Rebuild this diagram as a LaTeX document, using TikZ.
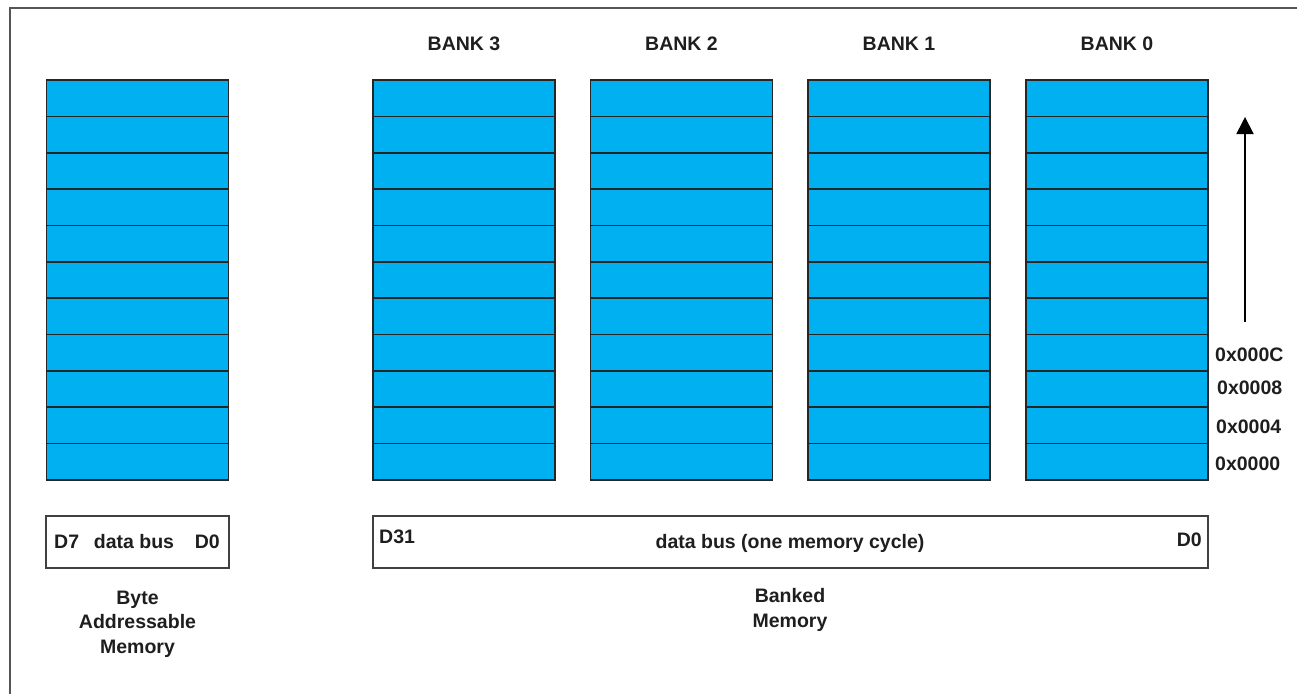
\documentclass[tikz,border=0pt]{standalone}
\usepackage{fontspec}
\setmainfont{Liberation Sans}
\usetikzlibrary{arrows.meta,calc}
\definecolor{cellblue}{HTML}{00B0F0}
\definecolor{txt}{HTML}{1E1E1E}
\definecolor{frame}{HTML}{555555}
\begin{document}
\begin{tikzpicture}[x=1pt,y=-1pt,
  memcol/.style={draw=black!85, line width=1.6pt, fill=cellblue, minimum width=182pt, minimum height=400pt, inner sep=0pt, outer sep=0pt},
  sepline/.style={draw=black!85, line width=1.6pt},
  lbl/.style={font=\bfseries\fontsize{19.5}{24.5}\selectfont, text=txt, inner sep=0pt},
  busbox/.style={draw=black!75, line width=1.4pt, minimum height=52pt, inner sep=0pt, outer sep=0pt},
  addrarrow/.style={-{Triangle[length=17pt,width=17pt]}, line width=1.8pt, draw=black}]
\useasboundingbox (0,0) rectangle (1297,694);
\draw[frame, line width=1.6pt] (10,694) -- (10,8) -- (1297,8);
% memory columns
\node[memcol] (byte)  at (137.5,280) {};
\node[memcol] (bank3) at (464,280) {};
\node[memcol] (bank2) at (681.5,280) {};
\node[memcol] (bank1) at (899,280) {};
\node[memcol] (bank0) at (1117,280) {};
\foreach \c in {byte,bank3,bank2,bank1,bank0}{
  \foreach \i in {1,...,10}{
    \draw[sepline] ($(\c.north west)!\i/11!(\c.south west)$) -- ($(\c.north east)!\i/11!(\c.south east)$);
  }
}
% bank titles
\node[lbl] (t3) at (464,44) {BANK 3};
\node[lbl] (t2) at (681.5,44) {BANK 2};
\node[lbl] (t1) at (899,44) {BANK 1};
\node[lbl] (t0) at (1117,44) {BANK 0};
% address arrow and labels
\coordinate (arrS) at (1245,322);
\coordinate (arrE) at (1245,117);
\draw[addrarrow] (arrS) -- (arrE);
\node[lbl, anchor=west] (aC) at (1215,355) {0x000C};
\node[lbl, anchor=west] (a8) at (1217,388) {0x0008};
\node[lbl, anchor=west] (a4) at (1216,427) {0x0004};
\node[lbl, anchor=west] (a0) at (1215,464) {0x0000};
% data buses
\node[busbox, minimum width=183pt] (bytebus) at (137.5,542) {};
\node[lbl, anchor=west] (bd7) at ([xshift=8pt]bytebus.west) {D7};
\node[lbl] (bdb) at (134,542) {data bus};
\node[lbl, anchor=east] (bd0) at ([xshift=-9pt]bytebus.east) {D0};
\node[busbox, minimum width=835pt] (bankbus) at (790.5,542) {};
\node[lbl, anchor=west] (kd31) at ([xshift=6pt,yshift=5pt]bankbus.west) {D31};
\node[lbl] (kdb) at (790,543) {data bus (one memory cycle)};
\node[lbl, anchor=east] (kd0) at ([xshift=-6pt,yshift=2pt]bankbus.east) {D0};
% captions
\node[lbl, align=center] (capbyte) at (137.5,624) {Byte\\Addressable\\Memory};
\node[lbl, align=center] (capbank) at (790,610) {Banked\\Memory};
\end{tikzpicture}
\end{document}
